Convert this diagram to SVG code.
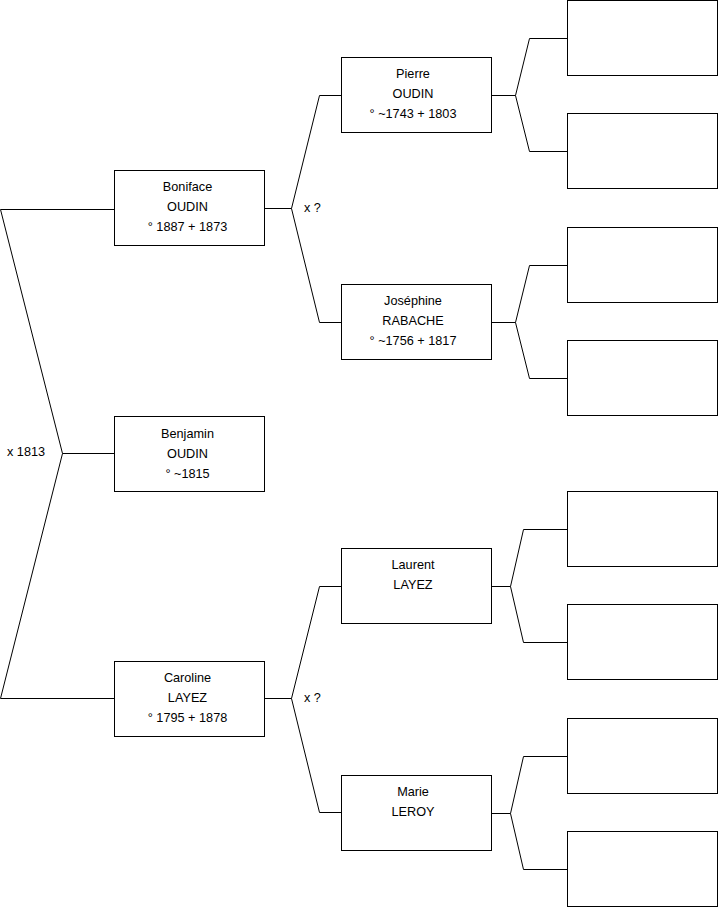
<svg xmlns="http://www.w3.org/2000/svg" width="719" height="908" viewBox="0 0 719 908">
<style>
.box{fill:#fff;stroke:#000;stroke-width:1}
.ln{fill:none;stroke:#000;stroke-width:1}
text{font-family:"Liberation Sans",Arial,sans-serif;font-size:12.7px;fill:#000}
.c{text-anchor:middle}
</style>
<rect width="719" height="908" fill="#fff"/>
<g id="connectors">
<polyline class="ln" points="114,209.5 0.5,209.5 62.5,453.5 0.5,698.5 114,698.5"/>
<line class="ln" x1="62.5" y1="453.5" x2="114" y2="453.5"/>
<text x="7" y="456">x 1813</text>
<polyline class="ln" points="341,95.5 319.5,95.5 291.5,208.5 319.5,322.5 341,322.5"/>
<line class="ln" x1="265" y1="208.5" x2="291.5" y2="208.5"/>
<text x="304" y="212">x ?</text>
<polyline class="ln" points="341,586.5 319.5,586.5 291.5,698.5 319.5,812.5 341,812.5"/>
<line class="ln" x1="265" y1="698.5" x2="291.5" y2="698.5"/>
<text x="304" y="702">x ?</text>
<polyline class="ln" points="567,38.5 529.5,38.5 515.5,95.5 529.5,151.5 567,151.5"/>
<line class="ln" x1="491" y1="95.5" x2="515.5" y2="95.5"/>
<polyline class="ln" points="567,265.5 529.5,265.5 515.5,322.5 529.5,378.5 567,378.5"/>
<line class="ln" x1="491" y1="322.5" x2="515.5" y2="322.5"/>
<polyline class="ln" points="567,529.5 523.5,529.5 510.5,586.5 523.5,642.5 567,642.5"/>
<line class="ln" x1="491" y1="586.5" x2="510.5" y2="586.5"/>
<polyline class="ln" points="567,756.5 523.5,756.5 510.5,813.5 523.5,869.5 567,869.5"/>
<line class="ln" x1="491" y1="813.5" x2="510.5" y2="813.5"/>
</g>
<g id="boniface"><rect class="box" x="114.5" y="170.5" width="150" height="75"/>
<text class="c" x="187.5" y="191">Boniface</text><text class="c" x="187.5" y="211">OUDIN</text><text class="c" x="187.5" y="231">° 1887 + 1873</text></g>
<g id="benjamin"><rect class="box" x="114.5" y="416.5" width="150" height="75"/>
<text class="c" x="187.5" y="438">Benjamin</text><text class="c" x="187.5" y="458">OUDIN</text><text class="c" x="187.5" y="478">° ~1815</text></g>
<g id="caroline"><rect class="box" x="114.5" y="661.5" width="150" height="75"/>
<text class="c" x="187.5" y="682">Caroline</text><text class="c" x="187.5" y="702">LAYEZ</text><text class="c" x="187.5" y="722">° 1795 + 1878</text></g>
<g id="pierre"><rect class="box" x="341.5" y="57.5" width="150" height="75"/>
<text class="c" x="413" y="78">Pierre</text><text class="c" x="413" y="98">OUDIN</text><text class="c" x="413" y="118">° ~1743 + 1803</text></g>
<g id="josephine"><rect class="box" x="341.5" y="284.5" width="150" height="75"/>
<text class="c" x="413" y="305">Joséphine</text><text class="c" x="413" y="325">RABACHE</text><text class="c" x="413" y="345">° ~1756 + 1817</text></g>
<g id="laurent"><rect class="box" x="341.5" y="548.5" width="150" height="75"/>
<text class="c" x="413" y="569">Laurent</text><text class="c" x="413" y="589">LAYEZ</text></g>
<g id="marie"><rect class="box" x="341.5" y="775.5" width="150" height="75"/>
<text class="c" x="413" y="796">Marie</text><text class="c" x="413" y="816">LEROY</text></g>
<g id="g3a"><rect class="box" x="567.5" y="0.5" width="150" height="75"/></g>
<g id="g3b"><rect class="box" x="567.5" y="113.5" width="150" height="75"/></g>
<g id="g3c"><rect class="box" x="567.5" y="227.5" width="150" height="75"/></g>
<g id="g3d"><rect class="box" x="567.5" y="340.5" width="150" height="75"/></g>
<g id="g3e"><rect class="box" x="567.5" y="491.5" width="150" height="75"/></g>
<g id="g3f"><rect class="box" x="567.5" y="604.5" width="150" height="75"/></g>
<g id="g3g"><rect class="box" x="567.5" y="718.5" width="150" height="75"/></g>
<g id="g3h"><rect class="box" x="567.5" y="831.5" width="150" height="75"/></g>
</svg>
